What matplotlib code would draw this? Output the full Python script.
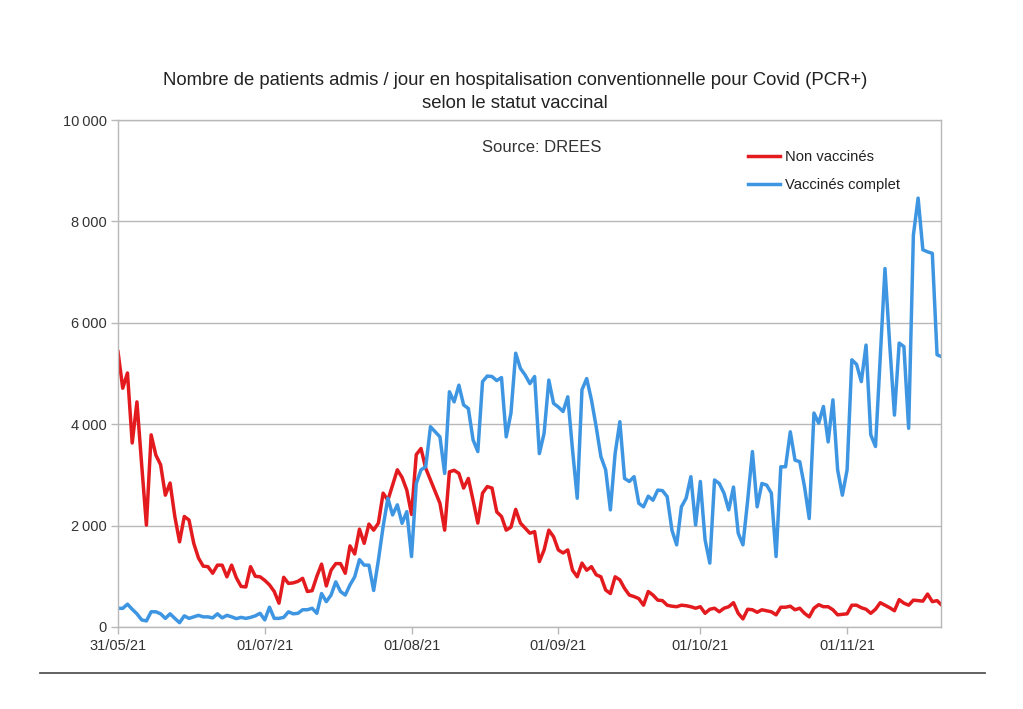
import matplotlib
matplotlib.use("Agg")
import matplotlib.pyplot as plt
from matplotlib.ticker import FuncFormatter
from matplotlib.lines import Line2D
import numpy as np
import datetime as dt

plt.rcParams['font.family'] = ['Liberation Sans', 'DejaVu Sans']

start_date = "2021-05-31"

non_vaccines = [
    5430, 4710, 5010, 3630, 4440, 3200, 2010, 3790, 3390, 3200,
    2600, 2840, 2180, 1680, 2180, 2110, 1650, 1360, 1200, 1190,
    1060, 1220, 1220, 990, 1220, 970, 800, 790, 1190, 1000,
    990, 920, 830, 700, 470, 980, 860, 870, 900, 960,
    700, 716, 1000, 1240, 810, 1120, 1250, 1250, 1060, 1600,
    1440, 1930, 1650, 2030, 1910, 2050, 2640, 2500, 2800, 3100,
    2950, 2700, 2220, 3400, 3520, 3130, 2900, 2670, 2440, 1910,
    3060, 3090, 3030, 2740, 2930, 2500, 2050, 2640, 2770, 2740,
    2270, 2180, 1910, 1970, 2320, 2050, 1950, 1850, 1880, 1290,
    1520, 1910, 1780, 1520, 1460, 1520, 1120, 990, 1260, 1120,
    1190, 1030, 990, 730, 660, 990, 930, 760, 630, 600,
    560, 430, 700, 630, 530, 520, 430, 410, 400, 430,
    420, 400, 370, 400, 270, 350, 370, 300, 370, 400,
    480, 270, 160, 350, 340, 290, 340, 320, 300, 240,
    390, 390, 410, 340, 370, 270, 200, 370, 440, 400,
    400, 340, 240, 250, 260, 430, 430, 380, 350, 270,
    350, 480, 430, 380, 320, 540, 470, 430, 530, 520,
    510, 650, 500, 520, 430,
]

vaccines_complet = [
    368, 368, 450, 350, 260, 140, 120, 300, 300, 260,
    170, 260, 170, 85, 220, 170, 200, 230, 200, 200,
    180, 260, 180, 230, 200, 165, 190, 170, 190, 220,
    270, 140, 390, 170, 170, 190, 300, 260, 270, 340,
    340, 370, 270, 660, 500, 630, 890, 700, 630, 830,
    990, 1330, 1220, 1220, 720, 1320, 1980, 2540, 2210, 2410,
    2045, 2275, 1390, 2830, 3100, 3160, 3950, 3850, 3750, 3030,
    4640, 4440, 4770, 4380, 4310, 3690, 3460, 4840, 4950, 4940,
    4860, 4920, 3750, 4220, 5400, 5100, 4970, 4800, 4940, 3420,
    3820, 4870, 4410, 4340, 4250, 4540, 3500, 2540, 4680, 4900,
    4480, 3950, 3360, 3100, 2310, 3420, 4050, 2930, 2870, 2965,
    2440, 2370, 2580, 2500, 2700, 2690, 2570, 1910, 1620, 2370,
    2540, 2965, 2010, 2870, 1720, 1260, 2900, 2830, 2640, 2310,
    2760, 1850, 1620, 2500, 3460, 2370, 2830, 2800, 2640, 1390,
    3160, 3160, 3850, 3290, 3260, 2770, 2140, 4220, 4020, 4350,
    3650, 4480, 3100, 2600, 3100, 5270, 5180, 4840, 5560, 3790,
    3560, 5330, 7070, 5570, 4180, 5600, 5530, 3920, 7730, 8460,
    7440, 7400, 7370, 5370, 5330,
]

tick_dates = ["2021-05-31", "2021-07-01", "2021-08-01", "2021-09-01", "2021-10-01", "2021-11-01"]
tick_labels = ["31/05/21", "01/07/21", "01/08/21", "01/09/21", "01/10/21", "01/11/21"]
series_labels = ["Non vaccinés", "Vaccinés complet"]

t0 = np.datetime64(start_date)
dates = t0 + np.arange(len(non_vaccines)).astype('timedelta64[D]')
dates = dates.astype('datetime64[ms]').astype(dt.datetime)

fig = plt.figure(figsize=(10.23, 7.09), dpi=100)
ax = fig.add_axes([118/1023, 1-627/709, (941-118)/1023, (627-120)/709])

red = '#e31b1f'
blue = '#3e96e2'
ax.plot(dates, non_vaccines, color=red, lw=2.5, label=series_labels[0], solid_joinstyle='round')
ax.plot(dates, vaccines_complet, color=blue, lw=2.5, label=series_labels[1], solid_joinstyle='round')

ax.set_xlim(dates[0], dt.datetime(2021, 11, 20, 20))
ax.set_ylim(0, 10000)
ax.set_yticks(np.arange(0, 10001, 2000))
ax.yaxis.set_major_formatter(FuncFormatter(lambda v, p: f"{int(v):,}".replace(",", "\u2009")))
ax.set_xticks([dt.datetime.strptime(d, "%Y-%m-%d") for d in tick_dates])
ax.set_xticklabels(tick_labels)

gridc = '#b8b8b8'
ax.grid(axis='y', color=gridc, lw=1)
ax.set_axisbelow(True)
for s in ax.spines.values():
    s.set_color(gridc)
    s.set_linewidth(1)
ax.tick_params(axis='both', colors=gridc, labelcolor='#333333', labelsize=10.5, length=5, width=1, direction='out')
ax.tick_params(axis='x', pad=4)
ax.tick_params(axis='y', pad=3)

fig.text(0.5034, 1-80.5/709, "Nombre de patients admis / jour en hospitalisation conventionnelle pour Covid (PCR+)",
         ha='center', va='center', fontsize=13.3, color='#222222')
fig.text(0.5034, 1-103/709, "selon le statut vaccinal", ha='center', va='center', fontsize=13.3, color='#222222')
ax.text((542-118)/823, (627-147)/507, "Source: DREES", transform=ax.transAxes, ha='center', va='center',
        fontsize=12, color='#333333')

leg = ax.legend(loc='upper left', bbox_to_anchor=((748-118)/823, (627-150)/507), frameon=False,
                borderpad=0, borderaxespad=0, handlelength=2.18, handletextpad=0.34, labelspacing=0.93,
                fontsize=10.6)
for t in leg.get_texts():
    t.set_color('#222222')

fig.add_artist(Line2D([40/1023, 985/1023], [1-673/709, 1-673/709], color='#555555', lw=1.3))

fig.savefig("out.png", dpi=100, facecolor='white')
